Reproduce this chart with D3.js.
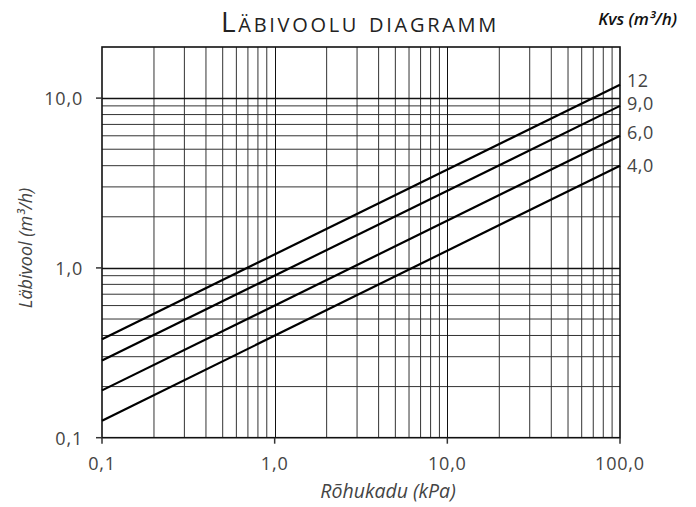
<!DOCTYPE html>
<html><head><meta charset="utf-8">
<script src="https://cdn.jsdelivr.net/npm/d3@7"></script>
<style>
html,body{margin:0;padding:0;background:#fff;}
text{font-family:"Open Sans",Lato,sans-serif;}
</style></head>
<body><svg id="c" width="696" height="507"></svg>
<script>
const kvsLabels = ["12","9,0","6,0","4,0"];
const dpEnds = [0.1, 100];
const flow12 = [0.38, 12];
const flow9 = [0.285, 9];
const flow6 = [0.19, 6];
const flow4 = [0.126, 4];
const xTicks = [0.1, 1, 10, 100];
const xTickLabels = ["0,1","1,0","10,0","100,0"];
const yTicks = [0.1, 1, 10];
const yTickLabels = ["0,1","1,0","10,0"];
const series = [flow12, flow9, flow6, flow4];

const svg = d3.select("#c");
const m = {l:102, r:620, t:47, b:437.7};
const x = d3.scaleLog().domain([0.1,100]).range([m.l,m.r]);
const y = d3.scaleLog().domain([0.1,20]).range([m.b,m.t]);

const xGrid = [];
for (let d of [0.1,1,10]) for (let k=2;k<=9;k++) xGrid.push(d*k);
const yGrid = [];
for (let d of [0.1,1]) for (let k=2;k<=9;k++) yGrid.push(d*k);

const g = svg.append("g");
g.selectAll(".vg").data(xGrid).join("line")
  .attr("x1",d=>x(d)).attr("x2",d=>x(d)).attr("y1",m.t).attr("y2",m.b)
  .attr("stroke","#333").attr("stroke-width",1);
g.selectAll(".hg").data(yGrid).join("line")
  .attr("y1",d=>y(d)).attr("y2",d=>y(d)).attr("x1",m.l).attr("x2",m.r)
  .attr("stroke","#333").attr("stroke-width",1);
g.selectAll(".vm").data([1,10]).join("line")
  .attr("x1",d=>Math.round(x(d))+0.5).attr("x2",d=>Math.round(x(d))+0.5).attr("y1",m.t).attr("y2",m.b)
  .attr("stroke","#111").attr("stroke-width",1);
g.selectAll(".hm").data([1,10]).join("line")
  .attr("y1",d=>Math.round(y(d))+0.5).attr("y2",d=>Math.round(y(d))+0.5).attr("x1",m.l).attr("x2",m.r)
  .attr("stroke","#111").attr("stroke-width",1.3);

svg.append("rect").attr("x",m.l).attr("y",m.t).attr("width",m.r-m.l).attr("height",m.b-m.t)
  .attr("fill","none").attr("stroke","#111").attr("stroke-width",1.6);

svg.selectAll(".xt").data(xTicks).join("line")
  .attr("x1",d=>x(d)).attr("x2",d=>x(d)).attr("y1",m.b).attr("y2",m.b+6)
  .attr("stroke","#333").attr("stroke-width",1.5);
svg.selectAll(".yt").data(yTicks).join("line")
  .attr("y1",d=>y(d)).attr("y2",d=>y(d)).attr("x1",m.l-6).attr("x2",m.l)
  .attr("stroke","#333").attr("stroke-width",1.5);
svg.selectAll(".xl").data(xTicks).join("text")
  .attr("x",d=>x(d)).attr("y",m.b+32).attr("text-anchor","middle")
  .attr("font-size",18).attr("fill","#444").style("letter-spacing","0.8px").text((d,i)=>xTickLabels[i]);
svg.selectAll(".yl").data(yTicks).join("text")
  .attr("x",m.l-19).attr("y",d=>y(d)+7).attr("text-anchor","end")
  .attr("font-size",18).attr("fill","#444").style("letter-spacing","0.8px").text((d,i)=>yTickLabels[i]);

const line = d3.line().x((d,i)=>x(dpEnds[i])).y(d=>y(d));
svg.selectAll(".s").data(series).join("path")
  .attr("d",d=>line(d)).attr("fill","none").attr("stroke","#000").attr("stroke-width",2.2);

const labelDy = [2,4,3,6];
svg.selectAll(".sl").data(series).join("text")
  .attr("x",m.r+7).attr("y",(d,i)=>y(d[1])+labelDy[i])
  .attr("font-size",18).attr("fill","#444").style("letter-spacing","0.5px").text((d,i)=>kvsLabels[i]);

svg.append("text").attr("x",360).attr("y",32).attr("text-anchor","middle")
  .attr("font-size",28).attr("fill","#222").style("font-variant","small-caps")
  .style("letter-spacing","2.7px").text("Läbivoolu diagramm");
svg.append("text").attr("x",677).attr("y",25).attr("text-anchor","end")
  .attr("font-size",17).attr("font-style","italic").attr("font-weight",600).attr("fill","#111")
  .text("Kvs (m³/h)");
svg.append("text").attr("x",388).attr("y",498).attr("text-anchor","middle")
  .attr("font-size",19.5).attr("font-style","italic").attr("fill","#444").text("Rõhukadu (kPa)");
svg.append("text").attr("transform","translate(32,248) rotate(-90)").attr("text-anchor","middle")
  .attr("font-size",18).attr("font-style","italic").attr("fill","#444").text("Läbivool (m³/h)");
</script></body></html>
